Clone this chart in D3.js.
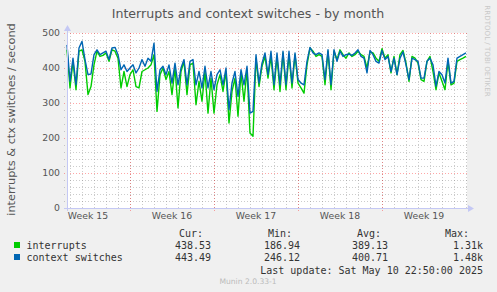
<!DOCTYPE html>
<html>
<head>
<meta charset="utf-8">
<script src="https://cdn.jsdelivr.net/npm/d3@7"></script>
<style>
  body { margin: 0; background: #f0f0f0; }
  text { font-family: "DejaVu Sans", sans-serif; }
  .mono { font-family: "DejaVu Sans Mono", monospace; }
</style>
</head>
<body>
<div class="main"></div>
<script>
const width = 497;
const height = 292;

// one sample every 6 hours, starting at the left edge of the graph
const startTime = "2025-04-07T18:00:00Z";
const stepHours = 6;
const spanHours = 800;

const interrupts = [
  452, 343, 419, 338, 448, 452, 419, 324, 347, 409, 448, 433, 436, 443, 419, 452, 448, 428, 343, 390,
  347, 381, 395, 347, 343, 390, 395, 400, 409, 438, 276, 381, 400, 367, 390, 324, 400, 286, 390, 419,
  324, 409, 414, 295, 362, 305, 390, 271, 371, 271, 352, 381, 333, 390, 243, 333, 371, 262, 386, 305,
  395, 214, 205, 428, 347, 405, 433, 371, 433, 338, 433, 333, 443, 338, 438, 343, 438, 357, 343, 328,
  409, 457, 448, 433, 438, 433, 352, 448, 338, 448, 424, 452, 438, 428, 443, 433, 438, 448, 438, 433,
  400, 446, 443, 428, 419, 455, 428, 438, 386, 433, 381, 438, 450, 414, 362, 433, 428, 414, 367, 362,
  419, 433, 390, 338, 386, 362, 338, 419, 352, 357, 419, 424, 428, 433
];

const ctxSwitches = [
  466, 362, 428, 352, 457, 476, 424, 381, 383, 438, 452, 438, 443, 448, 424, 457, 459, 438, 395, 409,
  390, 400, 409, 386, 400, 424, 405, 428, 419, 471, 333, 395, 405, 381, 409, 357, 414, 352, 400, 424,
  352, 419, 424, 352, 390, 343, 405, 343, 390, 338, 381, 395, 352, 400, 281, 357, 390, 319, 395, 352,
  405, 271, 276, 438, 357, 414, 443, 381, 448, 352, 443, 352, 448, 352, 448, 357, 443, 367, 357, 352,
  419, 459, 443, 438, 443, 438, 367, 452, 352, 452, 419, 448, 433, 438, 440, 436, 443, 452, 433, 428,
  386, 450, 438, 419, 414, 450, 424, 433, 390, 428, 381, 428, 446, 409, 367, 428, 424, 419, 371, 371,
  419, 428, 409, 348, 390, 381, 357, 428, 357, 362, 428, 433, 438, 443
];

const seriesNames = ["interrupts", "context switches"];
const seriesColors = ["#00cc00", "#0066b3"];
const statHeaders = ["Cur:", "Min:", "Avg:", "Max:"];
const statValues = [
  ["438.53", "186.94", "389.13", "1.31k"],
  ["443.49", "246.12", "400.71", "1.48k"]
];

const yTicks = [0, 100, 200, 300, 400, 500];
const weekLabels = ["Week 15", "Week 16", "Week 17", "Week 18", "Week 19"];
const weekMids = ["2025-04-09T12:00:00Z", "2025-04-16T12:00:00Z", "2025-04-23T12:00:00Z",
                  "2025-04-30T12:00:00Z", "2025-05-07T12:00:00Z"];
const weekStarts = ["2025-04-13", "2025-04-20", "2025-04-27", "2025-05-04"];

const t0 = new Date(startTime);
const t1 = new Date(t0.getTime() + spanHours * 3600e3);

const x = d3.scaleUtc().domain([t0, t1]).range([67, 467]);
const y = d3.scaleLinear().domain([0, 500]).range([208, 33]);

const px = (v) => Math.round(v) + 0.5;

const svg = d3.select(".main")
  .append("svg")
    .attr("width", width)
    .attr("height", height)

svg.append("rect")
  .attr("width", width)
  .attr("height", height)
  .attr("fill", "#f0f0f0")

// canvas
svg.append("rect")
  .attr("x", x.range()[0])
  .attr("y", y.range()[1])
  .attr("width", x.range()[1] - x.range()[0])
  .attr("height", y.range()[0] - y.range()[1])
  .attr("fill", "#ffffff")

const grid = svg.append("g")
const minorColor = "rgba(128,128,128,0.4)";
const majorColor = "rgba(255,0,0,0.35)";

// minor grid: every day, every 20 units
grid.selectAll(".vminor")
  .data(d3.utcDay.range(d3.utcDay.ceil(t0), t1))
  .join("line")
    .attr("x1", (d) => px(x(d)))
    .attr("x2", (d) => px(x(d)))
    .attr("y1", y(0))
    .attr("y2", y(500))
    .attr("stroke", minorColor)
    .attr("stroke-dasharray", "1,2")

grid.selectAll(".hminor")
  .data(d3.range(20, 501, 20).filter((v) => v % 100 !== 0))
  .join("line")
    .attr("x1", 64)
    .attr("x2", x.range()[1])
    .attr("y1", (d) => px(y(d)))
    .attr("y2", (d) => px(y(d)))
    .attr("stroke", minorColor)
    .attr("stroke-dasharray", "1,2")

// major grid
grid.selectAll(".vmajor")
  .data(weekStarts.map((d) => new Date(d + "T00:00:00Z")))
  .join("line")
    .attr("x1", (d) => px(x(d)))
    .attr("x2", (d) => px(x(d)))
    .attr("y1", y(0) + 3)
    .attr("y2", y(500))
    .attr("stroke", majorColor)
    .attr("stroke-dasharray", "1,2")

grid.selectAll(".hmajor")
  .data(yTicks.slice(1))
  .join("line")
    .attr("x1", 64)
    .attr("x2", x.range()[1])
    .attr("y1", (d) => px(y(d)))
    .attr("y2", (d) => px(y(d)))
    .attr("stroke", majorColor)
    .attr("stroke-dasharray", "1,2")

// lines
const times = interrupts.map((_, i) => new Date(t0.getTime() + i * stepHours * 3600e3));
const line = d3.line()
  .x((d, i) => x(times[i]))
  .y((d) => y(d))

;[interrupts, ctxSwitches].forEach((s, i) => {
  svg.append("path")
    .datum(s)
    .attr("fill", "none")
    .attr("stroke", seriesColors[i])
    .attr("stroke-width", 1.4)
    .attr("stroke-linejoin", "round")
    .attr("d", line)
})

// axes with arrows
const axisColor = "#c4c8f4";
svg.append("line")
  .attr("x1", 64).attr("x2", 470)
  .attr("y1", px(y(0))).attr("y2", px(y(0)))
  .attr("stroke", axisColor)
svg.append("path")
  .attr("d", `M468,${px(y(0)) - 3.5}L474,${px(y(0))}L468,${px(y(0)) + 3.5}Z`)
  .attr("fill", axisColor)
svg.append("line")
  .attr("x1", px(x.range()[0])).attr("x2", px(x.range()[0]))
  .attr("y1", y(0) + 3).attr("y2", 29)
  .attr("stroke", axisColor)
svg.append("path")
  .attr("d", `M${px(x.range()[0]) - 3.5},31L${px(x.range()[0])},25L${px(x.range()[0]) + 3.5},31Z`)
  .attr("fill", axisColor)

// tick labels
svg.selectAll(".ytick")
  .data(yTicks)
  .join("text")
    .attr("x", 60)
    .attr("y", (d) => y(d))
    .attr("dy", "0.35em")
    .attr("text-anchor", "end")
    .attr("font-size", "9.3px")
    .attr("fill", "#555")
    .text((d) => d)

svg.selectAll(".xtick")
  .data(weekLabels)
  .join("text")
    .attr("x", (d, i) => x(new Date(weekMids[i])))
    .attr("y", 218.5)
    .attr("text-anchor", "middle")
    .attr("font-size", "9.3px")
    .attr("fill", "#555")
    .text((d) => d)

// title and axis label
svg.append("text")
  .attr("x", 248)
  .attr("y", 17.5)
  .attr("text-anchor", "middle")
  .attr("font-size", "12.6px")
  .attr("fill", "#555")
  .text("Interrupts and context switches - by month")

svg.append("text")
  .attr("transform", "translate(14.5,119.5) rotate(-90)")
  .attr("text-anchor", "middle")
  .attr("font-size", "11.3px")
  .attr("fill", "#555")
  .text("interrupts & ctx switches / second")

svg.append("text")
  .attr("transform", "translate(485,51) rotate(90)")
  .attr("text-anchor", "middle")
  .attr("font-size", "7.1px")
  .attr("fill", "#c8c8c8")
  .text("RRDTOOL / TOBI OETIKER")

// legend
const statRight = [203, 292, 381, 469];
const valueRight = [211, 300, 388, 483];

svg.selectAll(".hdr")
  .data(statHeaders)
  .join("text")
    .attr("class", "mono")
    .attr("x", (d, i) => statRight[i])
    .attr("y", 237)
    .attr("text-anchor", "end")
    .attr("font-size", "10px")
    .attr("fill", "#333")
    .text((d) => d)

const rows = svg.selectAll(".row")
  .data(seriesNames)
  .join("g")
    .attr("transform", (d, i) => `translate(0,${249 + i * 12})`)

rows.append("rect")
  .attr("x", 14)
  .attr("y", -7)
  .attr("width", 6)
  .attr("height", 6)
  .attr("fill", (d, i) => seriesColors[i])

rows.append("text")
  .attr("class", "mono")
  .attr("x", 26.5)
  .attr("font-size", "10px")
  .attr("fill", "#333")
  .text((d) => d)

rows.each(function (d, i) {
  d3.select(this).selectAll(".val")
    .data(statValues[i])
    .join("text")
      .attr("class", "mono")
      .attr("x", (v, j) => valueRight[j])
      .attr("text-anchor", "end")
      .attr("font-size", "10px")
      .attr("fill", "#333")
      .text((v) => v)
})

svg.append("text")
  .attr("class", "mono")
  .attr("x", 483)
  .attr("y", 273.5)
  .attr("text-anchor", "end")
  .attr("font-size", "10px")
  .attr("fill", "#333")
  .text("Last update:  Sat May 10 22:50:00 2025")

svg.append("text")
  .attr("x", 248)
  .attr("y", 284)
  .attr("text-anchor", "middle")
  .attr("font-size", "7.6px")
  .attr("fill", "#bbb")
  .text("Munin 2.0.33-1")
</script>
</body>
</html>
